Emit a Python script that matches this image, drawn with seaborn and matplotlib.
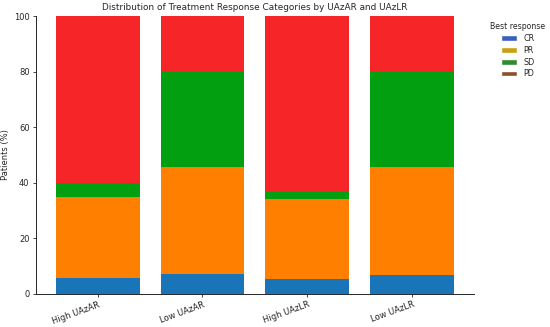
import matplotlib
matplotlib.use("Agg")
import matplotlib.pyplot as plt
from matplotlib.patches import Patch
import numpy as np
import pandas as pd
import seaborn as sns

groups = ["High UAzAR", "Low UAzAR", "High UAzLR", "Low UAzLR"]
categories = ["CR", "PR", "SD", "PD"]
cr = [5.6, 7.1, 5.4, 6.8]
pr = [29.4, 38.5, 28.8, 39.0]
sd = [4.8, 34.4, 2.6, 34.2]
pd_ = [60.2, 20.0, 63.2, 20.0]

bar_colors = ["#1a74b8", "#ff8000", "#02a010", "#f52528"]
legend_colors = ["#3b5fc0", "#c9a012", "#2e8b2e", "#8b4f2a"]

sns.set_style("ticks")
fig, ax = plt.subplots(figsize=(5.5, 3.27), dpi=100)
fig.subplots_adjust(left=0.065, right=0.862, top=0.951, bottom=0.101)

series = [cr, pr, sd, pd_]
cum = np.cumsum(np.array(series), axis=0)
df = pd.DataFrame({"group": groups})
for i in range(len(categories) - 1, -1, -1):
    df["val"] = cum[i]
    sns.barplot(data=df, x="group", y="val", color=bar_colors[i], saturation=1,
                width=0.8, ax=ax, errorbar=None, linewidth=0, edgecolor="none")

ax.set_xlim(-0.59, 3.59)
ax.set_ylim(0, 100)
ax.set_xlabel("")
ax.set_ylabel("Patients (%)", fontsize=6, labelpad=3)
ax.set_title("Distribution of Treatment Response Categories by UAzAR and UAzLR",
             fontsize=6.4, pad=4)
ax.tick_params(axis="both", labelsize=6, length=2.5, width=0.6, pad=2)
for s in ax.spines.values():
    s.set_linewidth(0.7)
plt.setp(ax.get_xticklabels(), rotation=20, ha="right", rotation_mode="anchor")
sns.despine(ax=ax)

handles = [Patch(facecolor=c, label=l) for c, l in zip(legend_colors, categories)]
ax.legend(handles=handles, title="Best response", fontsize=5.8, title_fontsize=5.6,
          frameon=False, loc="upper left", bbox_to_anchor=(1.02, 1.004),
          labelspacing=0.35, handleheight=0.7, handlelength=2.0)

fig.savefig("out.png", dpi=100)
